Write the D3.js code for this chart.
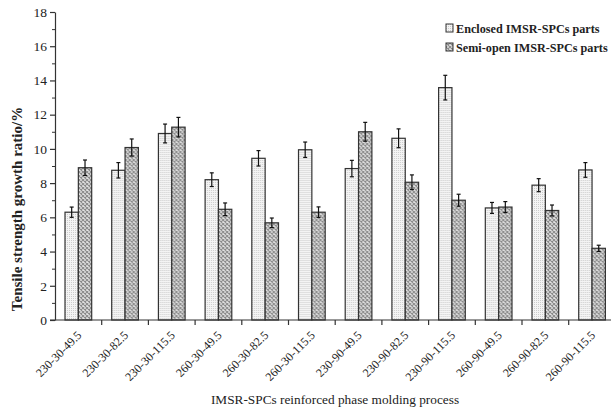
<!DOCTYPE html>
<html>
<head>
<meta charset="utf-8">
<script src="https://cdn.jsdelivr.net/npm/d3@7"></script>
<style>
  html, body { margin: 0; padding: 0; background: #fff; }
  svg { display: block; }
  text { font-family: "Liberation Serif", "Times New Roman", serif; fill: #222; }
</style>
</head>
<body>
<svg id="chart" width="611" height="411"></svg>
<script>
// Molding process conditions (melt temp - mold temp - injection pressure)
const categories = [
  "230-30-49.5", "230-30-82.5", "230-30-115.5",
  "260-30-49.5", "260-30-82.5", "260-30-115.5",
  "230-90-49.5", "230-90-82.5", "230-90-115.5",
  "260-90-49.5", "260-90-82.5", "260-90-115.5"
];
const seriesNames = ["Enclosed IMSR-SPCs parts", "Semi-open IMSR-SPCs parts"];

// Tensile strength growth ratio (%) and standard deviation
const enclosedValues = [6.3, 8.75, 10.9, 8.2, 9.45, 9.95, 8.85, 10.62, 13.58, 6.55, 7.88, 8.77];
const enclosedErrors = [0.3, 0.45, 0.55, 0.4, 0.45, 0.45, 0.48, 0.55, 0.72, 0.32, 0.38, 0.43];
const semiOpenValues = [8.9, 10.08, 11.27, 6.47, 5.68, 6.3, 11.0, 8.05, 7.0, 6.6, 6.4, 4.19];
const semiOpenErrors = [0.45, 0.5, 0.57, 0.37, 0.28, 0.31, 0.55, 0.43, 0.35, 0.32, 0.32, 0.18];

const yTicks = [0, 2, 4, 6, 8, 10, 12, 14, 16, 18];

const svg = d3.select("#chart");

// Fill patterns: fine dots for enclosed, cross-hatch for semi-open
const defs = svg.append("defs");
const pDots = defs.append("pattern")
  .attr("id", "dots").attr("patternUnits", "userSpaceOnUse")
  .attr("width", 2).attr("height", 2);
pDots.append("rect").attr("width", 2).attr("height", 2).attr("fill", "#f4f4f4");
pDots.append("rect").attr("width", 1).attr("height", 1).attr("fill", "#cccccc");

const pHatch = defs.append("pattern")
  .attr("id", "hatch").attr("patternUnits", "userSpaceOnUse")
  .attr("width", 4).attr("height", 4);
pHatch.append("rect").attr("width", 4).attr("height", 4).attr("fill", "#e4e4e4");
pHatch.append("path").attr("d", "M0,0L4,4M4,0L0,4").attr("stroke", "#8a8a8a").attr("stroke-width", 1.1);

const plotLeft = 55, plotTop = 12, plotBottom = 320;
const step = 46.7;

const x0 = d3.scaleBand().domain(categories)
  .range([plotLeft, plotLeft + step * categories.length]).padding(0);
const x1 = d3.scaleBand().domain(seriesNames)
  .range([0, x0.bandwidth()]).paddingInner(0).paddingOuter(0.75);
const y = d3.scaleLinear().domain([0, 18]).range([plotBottom, plotTop]);

const rows = categories.map((c, i) => ({
  cat: c,
  items: [
    { s: seriesNames[0], v: enclosedValues[i], e: enclosedErrors[i], fill: "url(#dots)" },
    { s: seriesNames[1], v: semiOpenValues[i], e: semiOpenErrors[i], fill: "url(#hatch)" }
  ]
}));

// Bars
const groups = svg.append("g").selectAll("g").data(rows).join("g")
  .attr("transform", d => `translate(${x0(d.cat)},0)`);

groups.selectAll("rect").data(d => d.items).join("rect")
  .attr("x", d => x1(d.s))
  .attr("y", d => y(d.v))
  .attr("width", x1.bandwidth())
  .attr("height", d => y(0) - y(d.v))
  .attr("fill", d => d.fill)
  .attr("stroke", "#333").attr("stroke-width", 1.2);

// Error bars
const eb = groups.selectAll("g.err").data(d => d.items).join("g").attr("class", "err")
  .attr("stroke", "#111").attr("stroke-width", 1.2);
eb.append("line")
  .attr("x1", d => x1(d.s) + x1.bandwidth() / 2).attr("x2", d => x1(d.s) + x1.bandwidth() / 2)
  .attr("y1", d => y(d.v + d.e)).attr("y2", d => y(d.v - d.e));
eb.append("line")
  .attr("x1", d => x1(d.s) + x1.bandwidth() / 2 - 2).attr("x2", d => x1(d.s) + x1.bandwidth() / 2 + 2)
  .attr("y1", d => y(d.v + d.e)).attr("y2", d => y(d.v + d.e));
eb.append("line")
  .attr("x1", d => x1(d.s) + x1.bandwidth() / 2 - 2).attr("x2", d => x1(d.s) + x1.bandwidth() / 2 + 2)
  .attr("y1", d => y(d.v - d.e)).attr("y2", d => y(d.v - d.e));

// Y axis with minor ticks
const yMinor = d3.range(1, 18, 2);
svg.append("g").attr("transform", `translate(${plotLeft},0)`)
  .call(d3.axisLeft(y).tickValues(yMinor).tickSize(3).tickFormat(""))
  .call(g => g.select(".domain").remove())
  .selectAll("line").attr("stroke", "#333");
const yAxis = svg.append("g").attr("transform", `translate(${plotLeft},0)`)
  .call(d3.axisLeft(y).tickValues(yTicks).tickSize(5).tickPadding(3).tickSizeOuter(0));
yAxis.select(".domain").attr("stroke", "#333").attr("stroke-width", 1.2);
yAxis.selectAll("line").attr("stroke", "#333").attr("stroke-width", 1.2);
yAxis.selectAll("text")
  .style("font-family", "'Liberation Serif', serif").style("font-size", "13.5px").attr("fill", "#333");

// X axis: ticks at category boundaries, labels rotated
const xAxis = svg.append("g").attr("transform", `translate(0,${plotBottom})`);
xAxis.append("line").attr("x1", plotLeft - 5).attr("x2", 611)
  .attr("stroke", "#333").attr("stroke-width", 1.2);
xAxis.selectAll("line.tick").data(categories.slice(1)).join("line").attr("class", "tick")
  .attr("x1", d => x0(d)).attr("x2", d => x0(d))
  .attr("y1", 0).attr("y2", 5).attr("stroke", "#333").attr("stroke-width", 1.2);
xAxis.selectAll("text").data(categories).join("text")
  .attr("transform", d => `translate(${x0(d) + x0.bandwidth() / 2 + 4},${16}) rotate(-45)`)
  .attr("text-anchor", "end")
  .style("font-size", "12px")
  .attr("fill", "#333")
  .text(d => d);

// Axis titles
svg.append("text")
  .attr("x", 335).attr("y", 404)
  .attr("text-anchor", "middle")
  .style("font-size", "13.3px")
  .text("IMSR-SPCs reinforced phase molding process");

svg.append("text")
  .attr("transform", `translate(22,${209}) rotate(-90)`)
  .attr("text-anchor", "middle")
  .style("font-size", "15px").style("font-weight", "bold")
  .text("Tensile strength growth ratio/%");

// Legend
const legend = svg.append("g").attr("transform", "translate(446,24)");
const li = legend.selectAll("g").data([
  { name: seriesNames[0], fill: "url(#dots)" },
  { name: seriesNames[1], fill: "url(#hatch)" }
]).join("g").attr("transform", (d, i) => `translate(0,${i * 19})`);
li.append("rect").attr("width", 7).attr("height", 8)
  .attr("fill", d => d.fill).attr("stroke", "#333").attr("stroke-width", 1);
li.append("text").attr("x", 10).attr("y", 8.5)
  .style("font-size", "12.2px").style("font-weight", "bold").attr("fill", "#333")
  .text(d => d.name);
</script>
</body>
</html>
